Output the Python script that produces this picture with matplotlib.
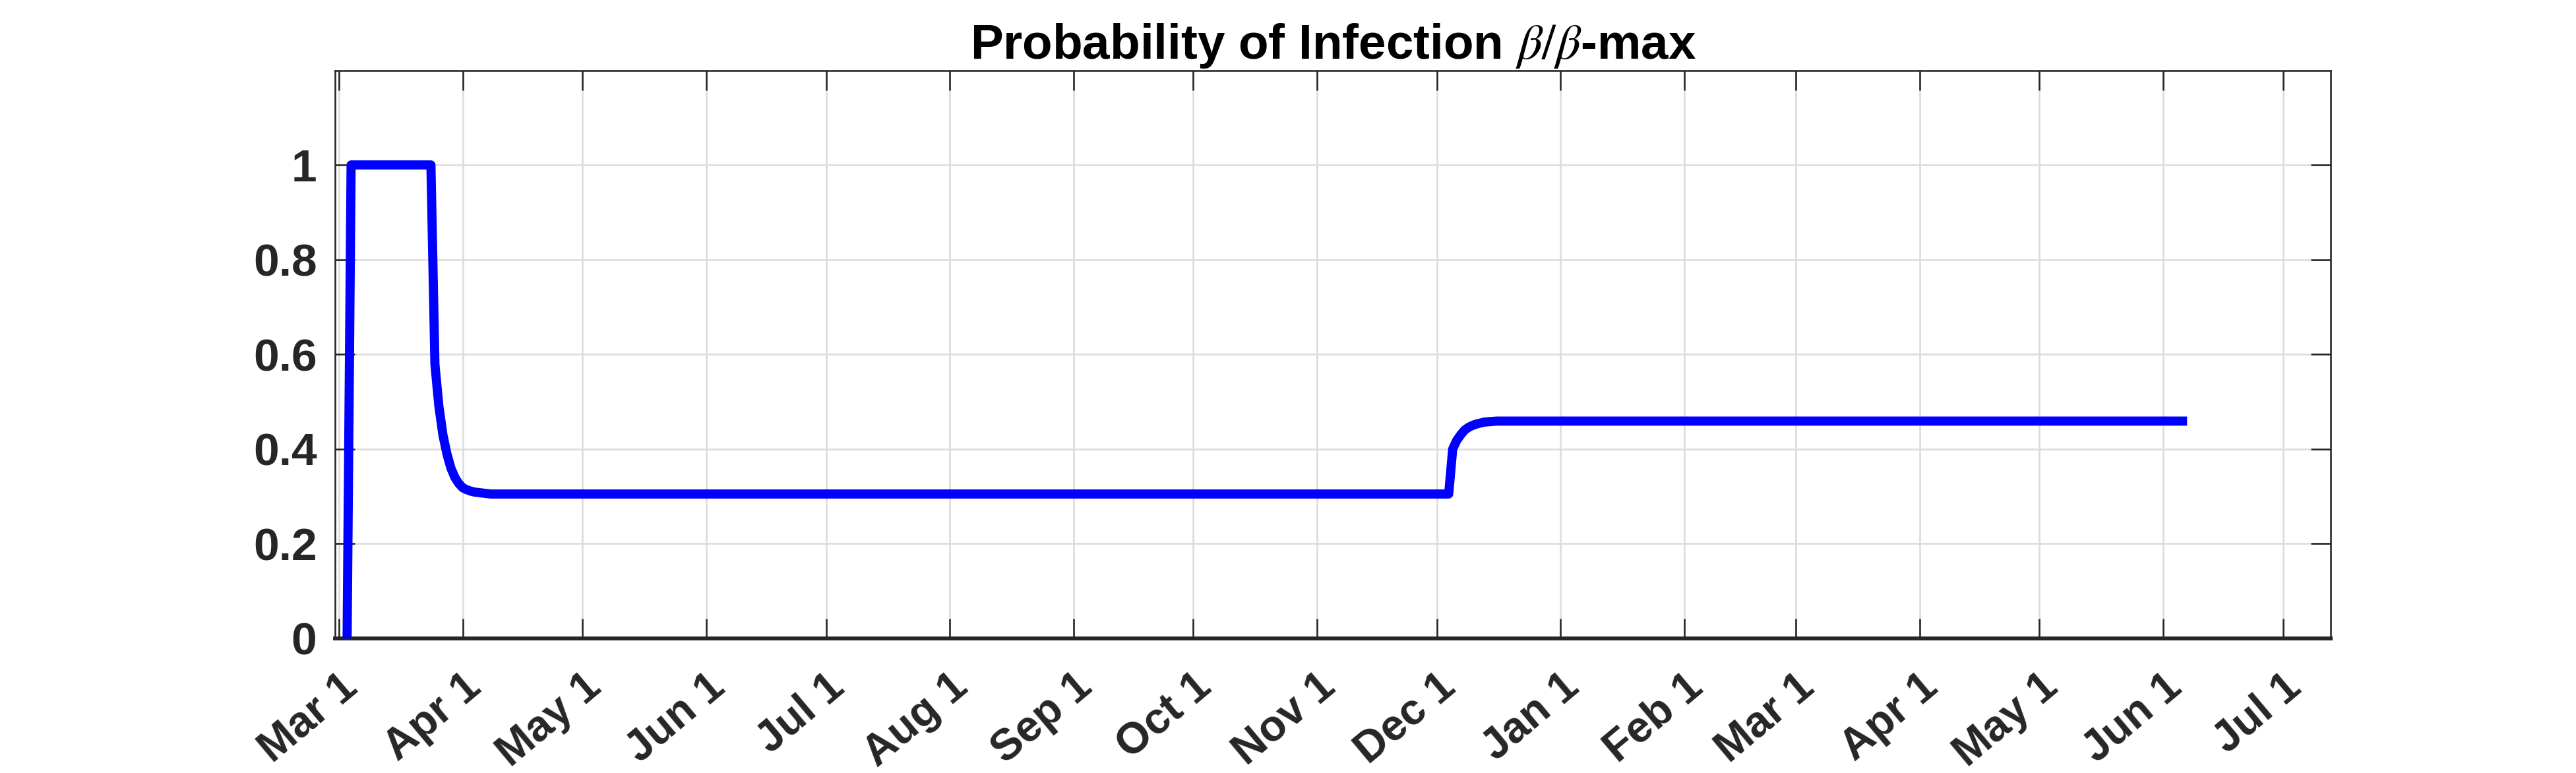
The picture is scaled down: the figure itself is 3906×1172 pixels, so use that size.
import datetime as dt
import matplotlib
matplotlib.use("Agg")
from matplotlib import pyplot as plt

plt.rcParams['font.family'] = ['Liberation Sans', 'DejaVu Sans']
plt.rcParams['mathtext.fontset'] = 'stix'

# beta / beta-max (vertices of the curve)
dates = [
    dt.date(2020, 3, 3), dt.date(2020, 3, 4), dt.date(2020, 3, 24),
    dt.date(2020, 3, 25), dt.date(2020, 3, 26), dt.date(2020, 3, 27),
    dt.date(2020, 3, 28), dt.date(2020, 3, 29), dt.date(2020, 3, 30),
    dt.date(2020, 3, 31), dt.date(2020, 4, 1), dt.date(2020, 4, 2),
    dt.date(2020, 4, 3), dt.date(2020, 4, 4), dt.date(2020, 4, 5),
    dt.date(2020, 4, 6), dt.date(2020, 4, 8), dt.date(2020, 12, 4),
    dt.date(2020, 12, 5), dt.date(2020, 12, 6), dt.date(2020, 12, 7),
    dt.date(2020, 12, 8), dt.date(2020, 12, 9), dt.date(2020, 12, 10),
    dt.date(2020, 12, 11), dt.date(2020, 12, 12), dt.date(2020, 12, 13),
    dt.date(2020, 12, 16), dt.date(2021, 6, 7),
]
ratio = [
    0.0, 1.0, 1.0,
    0.579, 0.49, 0.43,
    0.39, 0.36, 0.34,
    0.327, 0.318, 0.314,
    0.311, 0.309, 0.308,
    0.307, 0.305, 0.305,
    0.40, 0.418, 0.43,
    0.44, 0.446, 0.45,
    0.453, 0.455, 0.457,
    0.459, 0.459,
]

month_ticks = [dt.date(2020, m, 1) for m in range(3, 13)] + \
              [dt.date(2021, m, 1) for m in range(1, 8)]
month_labels = [d.strftime('%b') + ' 1' for d in month_ticks]
y_ticks = [0, 0.2, 0.4, 0.6, 0.8, 1]
y_labels = ['0', '0.2', '0.4', '0.6', '0.8', '1']

ink = '#262626'

fig = plt.figure(figsize=(15.624, 4.688), dpi=250)
ax = fig.add_axes([0.1301, 0.1741, 0.9048 - 0.1301, 0.9091 - 0.1741])

ax.plot(dates, ratio, color='#0000ff', lw=4.0, solid_joinstyle='round',
        solid_capstyle='butt', clip_on=False, zorder=3)

ax.set_xlim(dt.date(2020, 2, 29), dt.date(2021, 7, 13))
ax.set_ylim(0, 1.2)

ax.set_xticks(month_ticks)
ax.set_xticklabels(month_labels, rotation=40, ha='right', va='top',
                   rotation_mode='anchor', fontsize=19)
ax.set_yticks(y_ticks)
ax.set_yticklabels(y_labels, fontsize=20)

ax.grid(True, color='#dcdcdc', lw=0.75)
ax.set_axisbelow(True)

ax.tick_params(axis='both', direction='in', top=True, right=True,
               length=8.6, width=0.75, color=ink, labelcolor=ink)
ax.tick_params(axis='x', pad=12)
ax.tick_params(axis='y', pad=8)
for lab in ax.get_xticklabels() + ax.get_yticklabels():
    lab.set_fontweight('bold')

for side in ['left', 'right', 'top']:
    ax.spines[side].set_color(ink)
    ax.spines[side].set_linewidth(0.75)
ax.spines['bottom'].set_color(ink)
ax.spines['bottom'].set_linewidth(1.7)

ax.set_title(r'Probability of Infection $\beta/\beta$-max', fontsize=21.5,
             fontweight='bold', color='black', pad=5)

fig.savefig('out.png', dpi=250)
